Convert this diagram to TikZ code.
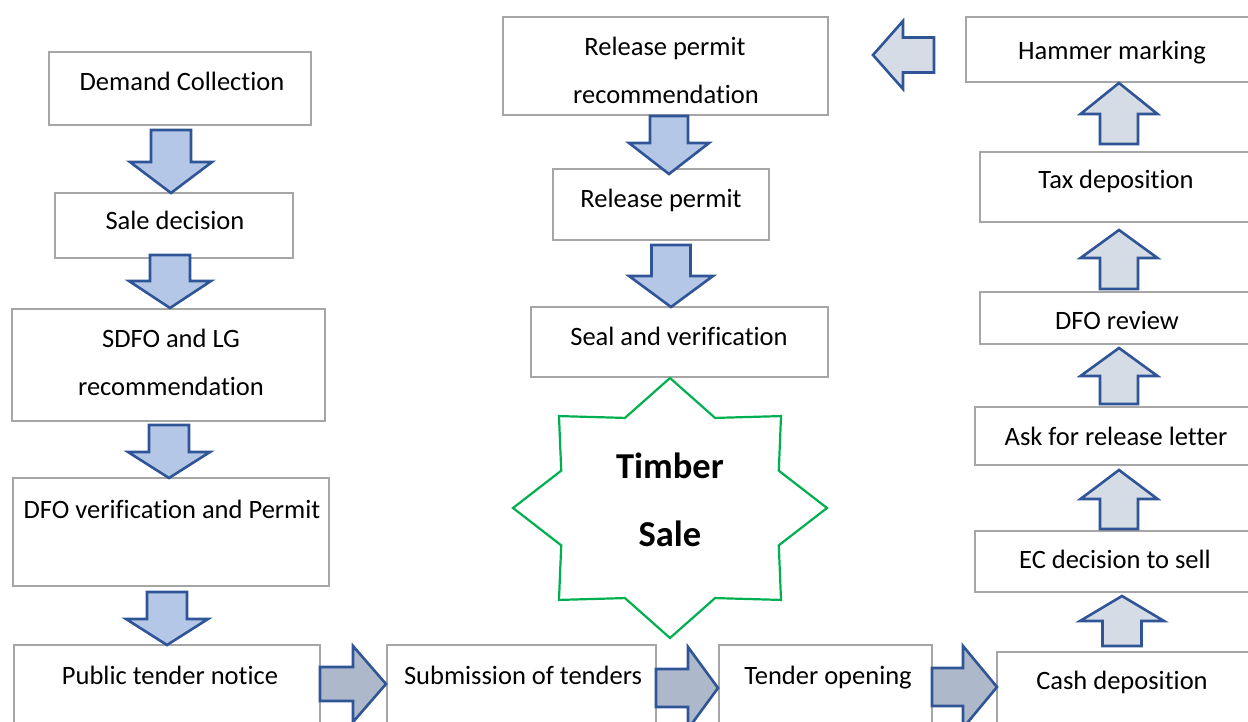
\documentclass[tikz,border=0pt]{standalone}
\usepackage{fontspec}
\setmainfont[Ligatures={CommonOff,ContextualOff},RawFeature={-liga;-clig;-calt}]{Carlito}
\usetikzlibrary{fit}
\definecolor{boxgray}{HTML}{A6A6A6}
\definecolor{arrline}{HTML}{2F5597}
\definecolor{dnfill}{HTML}{B4C7E7}
\definecolor{rtfill}{HTML}{ADB9CA}
\definecolor{upfill}{HTML}{D6DCE5}
\definecolor{stargreen}{HTML}{00B050}
\tikzset{
  box/.style={draw=boxgray, line width=2.2pt, fill=white, inner sep=0pt},
  txt/.style={font=\fontsize{26.5}{32}\selectfont, inner sep=0pt, anchor=base},
  bigtxt/.style={font=\fontsize{36.5}{40}\selectfont\bfseries, inner sep=0pt, anchor=base},
  blockarr/.style={draw=arrline, line width=2.6pt, line join=miter},
  dnarr/.style={blockarr, fill=dnfill},
  rtarr/.style={blockarr, fill=rtfill},
  uparr/.style={blockarr, fill=upfill},
  starline/.style={draw=stargreen, line width=2.2pt, fill=white, line join=miter}
}
% vertical block arrow: cx, base y, shoulder y, tip y, half shaft, half head, style
\newcommand\varr[7]{\draw[#7] (#1-#5,#2) -- (#1+#5,#2) -- (#1+#5,#3) -- (#1+#6,#3) -- (#1,#4) -- (#1-#6,#3) -- (#1-#5,#3) -- cycle;}
% horizontal block arrow: cy, base x, shoulder x, tip x, half shaft, half head, style
\newcommand\harr[7]{\draw[#7] (#2,#1-#5) -- (#3,#1-#5) -- (#3,#1-#6) -- (#4,#1) -- (#3,#1+#6) -- (#3,#1+#5) -- (#2,#1+#5) -- cycle;}
\begin{document}
\begin{tikzpicture}[x=1pt,y=-1pt]
\useasboundingbox (0,0) rectangle (1248,722);
\clip (0,0) rectangle (1248,722);
% boxes
\node[box, fit={(49,52) (311,125)}] (b1) {};
\node[box, fit={(55,193) (293,258)}] (b2) {};
\node[box, fit={(12,309) (325,421)}] (b3) {};
\node[box, fit={(13,478) (329,586)}] (b4) {};
\node[box, fit={(14,645) (320,740)}] (b5) {};
\node[box, fit={(387,645) (656,740)}] (b6) {};
\node[box, fit={(719,645) (932,740)}] (b7) {};
\node[box, fit={(997,652) (1270,740)}] (b8) {};
\node[box, fit={(975,531) (1270,592)}] (b9) {};
\node[box, fit={(975,407) (1270,465)}] (b10) {};
\node[box, fit={(980,292) (1270,344)}] (b11) {};
\node[box, fit={(980,152) (1270,222)}] (b12) {};
\node[box, fit={(966,17) (1270,82)}] (b13) {};
\node[box, fit={(503,17) (828,115)}] (b14) {};
\node[box, fit={(553,169) (769,240)}] (b15) {};
\node[box, fit={(531,307) (828,377)}] (b16) {};
% texts
\node[txt] (t1) at (182,91) {Demand Collection};
\node[txt] (t2) at (175,230) {Sale decision};
\node[txt] (t3a) at (171,347) {SDFO and LG};
\node[txt] (t3b) at (171,395) {recommendation};
\node[txt] (t4) at (172,518) {DFO verification and Permit};
\node[txt] (t5) at (170,684) {Public tender notice};
\node[txt] (t6) at (523,684) {Submission of tenders};
\node[txt] (t7) at (828,684) {Tender opening};
\node[txt] (t8) at (1122,689) {Cash deposition};
\node[txt] (t9) at (1115,568) {EC decision to sell};
\node[txt] (t10) at (1116,445) {Ask for release letter};
\node[txt] (t11) at (1117,329) {DFO review};
\node[txt] (t12) at (1116,189) {Tax deposition};
\node[txt] (t13) at (1112,60) {Hammer marking};
\node[txt] (t14a) at (665,56) {Release permit};
\node[txt] (t14b) at (666,104) {recommendation};
\node[txt] (t15) at (661,208) {Release permit};
\node[txt] (t16) at (679,345) {Seal and verification};
% star
\draw[starline] (827,508)
  \foreach \k in {1,...,15} {
    -- ({670+157*(1-0.25*mod(\k,2))*cos(22.5*\k)},{508-130*(1-0.25*mod(\k,2))*sin(22.5*\k)})
  } -- cycle;
\node[bigtxt] (s1) at (670,478) {Timber};
\node[bigtxt] (s2) at (670,546) {Sale};
% down arrows
\varr{171}{130}{162}{193}{20}{41}{dnarr}
\varr{170}{255}{281}{308}{20}{41}{dnarr}
\varr{169}{425}{452}{478}{20}{41}{dnarr}
\varr{167}{592}{619}{645}{20}{41}{dnarr}
\varr{669}{116}{143}{174}{19}{40}{dnarr}
\varr{671}{245}{276}{307}{19.5}{42}{dnarr}
% up arrows
\varr{1119}{144}{114}{83}{19}{38.5}{uparr}
\varr{1119}{289}{258}{230}{19}{38.5}{uparr}
\varr{1119}{404}{376}{348}{19}{38.5}{uparr}
\varr{1119}{529}{499}{470}{19}{38.5}{uparr}
\varr{1122}{646}{621}{596}{19.5}{42}{uparr}
% right arrows
\harr{684}{320}{353}{386}{17}{38}{rtarr}
\harr{688}{656}{688}{718}{19}{41}{rtarr}
\harr{687}{932}{963}{997}{19}{41}{rtarr}
% left arrow
\harr{55}{934}{903}{873}{17.5}{34}{uparr}
\end{tikzpicture}
\end{document}
